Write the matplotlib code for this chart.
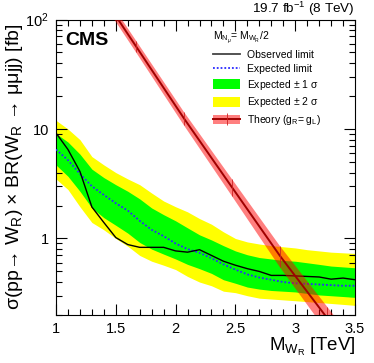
import numpy as np
import matplotlib
matplotlib.use('Agg')
import matplotlib.pyplot as plt
from matplotlib.lines import Line2D
from matplotlib.patches import Patch
from matplotlib.ticker import MultipleLocator, FixedLocator, FuncFormatter, LogLocator, NullFormatter

plt.rcParams['font.family'] = ['Liberation Sans', 'DejaVu Sans']
plt.rcParams['mathtext.fontset'] = 'custom'
plt.rcParams['mathtext.rm'] = 'Liberation Sans'
plt.rcParams['mathtext.it'] = 'Liberation Sans:italic'
plt.rcParams['mathtext.bf'] = 'Liberation Sans:bold'

# mass points (TeV)
mass = [1.0, 1.1, 1.2, 1.3, 1.4, 1.5, 1.6, 1.7, 1.8, 1.9, 2.0, 2.1, 2.2,
        2.3, 2.4, 2.5, 2.6, 2.7, 2.8, 2.9, 3.0, 3.1, 3.2, 3.3, 3.4, 3.5]

observed = [9.2, 6.5, 4.1, 1.94, 1.4, 1.02, 0.88, 0.83, 0.83, 0.83, 0.77, 0.75, 0.79,
            0.70, 0.62, 0.57, 0.53, 0.50, 0.46, 0.46, 0.455, 0.45, 0.445, 0.425, 0.435, 0.42]

expected = [6.5, 5.2, 3.9, 3.0, 2.5, 2.1, 1.8, 1.45, 1.2, 1.05, 0.9, 0.8, 0.74,
            0.66, 0.58, 0.52, 0.47, 0.44, 0.42, 0.40, 0.39, 0.385, 0.38, 0.375, 0.37, 0.37]

sigma1_up = [9.1, 7.6, 5.9, 4.3, 3.6, 3.1, 2.7, 2.3, 1.9, 1.65, 1.45, 1.25, 1.08,
             0.97, 0.86, 0.77, 0.71, 0.67, 0.65, 0.63, 0.62, 0.60, 0.58, 0.56, 0.55, 0.54]
sigma1_down = [4.7, 3.7, 2.7, 1.9, 1.55, 1.32, 1.12, 0.92, 0.80, 0.72, 0.65, 0.58, 0.53,
               0.48, 0.42, 0.39, 0.36, 0.345, 0.335, 0.33, 0.325, 0.315, 0.305, 0.30, 0.295, 0.29]
sigma2_up = [12.0, 10.0, 8.0, 5.6, 4.7, 4.0, 3.5, 3.1, 2.6, 2.2, 1.95, 1.75, 1.52,
             1.35, 1.15, 1.0, 0.93, 0.89, 0.86, 0.84, 0.82, 0.79, 0.77, 0.75, 0.74, 0.73]
sigma2_down = [3.5, 2.8, 1.95, 1.4, 1.2, 1.0, 0.85, 0.70, 0.62, 0.57, 0.52, 0.45, 0.40,
               0.37, 0.33, 0.32, 0.30, 0.285, 0.28, 0.275, 0.27, 0.265, 0.26, 0.255, 0.25, 0.245]

# theory (gR = gL)
theory_mass = [1.27, 1.67, 2.07, 2.47, 2.87, 3.27, 3.67]
theory = [257, 56.7, 12.5, 2.95, 0.70, 0.186, 0.049]
theory_down = [228, 50, 10.8, 2.45, 0.55, 0.138, 0.035]
theory_up = [286, 64, 14.3, 3.5, 0.86, 0.236, 0.064]

x_ticks = [1, 1.5, 2, 2.5, 3, 3.5]
y_ticks = [1, 10, 100]
y_ticklabels = ['1', '10', '$10^{2}$']

fig = plt.figure(figsize=(3.74, 3.63), dpi=100)
ax = fig.add_axes([0.1497, 0.1322, 0.7995, 0.814])

ax.fill_between(mass, sigma2_down, sigma2_up, color='#ffff00', lw=0, zorder=1)
ax.fill_between(mass, sigma1_down, sigma1_up, color='#00ff00', lw=0, zorder=2)
ax.plot(mass, expected, color='#2a2aff', lw=1.3, ls=(0, (1, 1.1)), zorder=3)
ax.plot(mass, observed, color='black', lw=1.0, zorder=4)

ax.fill_between(theory_mass, theory_down, theory_up, color='#ff0000', alpha=0.5, lw=0, zorder=5)
ax.plot(theory_mass, theory, color='#a00000', lw=1.4, zorder=6)
ax.vlines(theory_mass, theory_down, theory_up, color='#cc2222', lw=0.6, zorder=6)

ax.set_yscale('log')
ax.set_xlim(1, 3.5)
ax.set_ylim(0.2, 100)

ax.xaxis.set_major_locator(FixedLocator(x_ticks))
ax.xaxis.set_minor_locator(MultipleLocator(0.1))
ax.xaxis.set_major_formatter(FuncFormatter(lambda v, p: '%g' % v))
ax.yaxis.set_major_locator(FixedLocator(y_ticks))
ax.yaxis.set_major_formatter(FuncFormatter(lambda v, p: y_ticklabels[y_ticks.index(round(v))] if round(v) in y_ticks else ''))
ax.yaxis.set_minor_locator(LogLocator(base=10, subs=np.arange(2, 10)))
ax.yaxis.set_minor_formatter(NullFormatter())

ax.tick_params(which='both', direction='in', top=True, right=True, labelsize=10.5, width=0.8)
ax.tick_params(which='major', length=8, pad=5)
ax.tick_params(which='minor', length=4)
for s in ax.spines.values():
    s.set_linewidth(0.8)

ax.set_xlabel(r'M$_{\mathrm{W}_{\mathrm{R}}}$ [TeV]', fontsize=13.5, ha='right')
ax.xaxis.set_label_coords(1.0, -0.072)
ax.set_ylabel(r'σ(pp→ W$_{\mathrm{R}}$) × BR(W$_{\mathrm{R}}$ → μμjj) [fb]', fontsize=14)
ax.yaxis.set_label_coords(-0.105, 0.5)

ax.text(0.03, 0.958, 'CMS', transform=ax.transAxes, fontsize=14, fontweight='bold', va='top', ha='left')
ax.text(1.0, 1.004, '19.7 fb$^{-1}$ (8 TeV)', transform=ax.transAxes, fontsize=9.7, va='bottom', ha='right')

handles = [
    Line2D([], [], color='#444444', lw=1.3),
    Line2D([], [], color='#2a2aff', lw=1.3, ls=(0, (1, 1.1))),
    Patch(facecolor='#00ff00', edgecolor='none'),
    Patch(facecolor='#ffff00', edgecolor='none'),
    (Patch(facecolor='#ff0000', alpha=0.5, edgecolor='none'),
     Line2D([], [], color='#a00000', lw=1.4, marker='|', markersize=9, markeredgecolor='#cc2222', markeredgewidth=0.6)),
]
labels = ['Observed limit', 'Expected limit', r'Expected $\pm$ 1 σ', r'Expected $\pm$ 2 σ',
          r'Theory (g$_{\mathrm{R}}$= g$_{\mathrm{L}}$)']
leg = ax.legend(handles, labels, loc='upper left', bbox_to_anchor=(0.525, 0.965), frameon=False,
                fontsize=7.5, title=r'M$_{\mathrm{N}_{\mu}}$= M$_{\mathrm{W}_{\mathrm{R}}}$/2', title_fontsize=7.5,
                alignment='left', handlelength=2.6, handleheight=1.05, handletextpad=0.65,
                labelspacing=0.35, borderpad=0, borderaxespad=0)
leg.set_zorder(10)

fig.savefig('out.png', dpi=100)
